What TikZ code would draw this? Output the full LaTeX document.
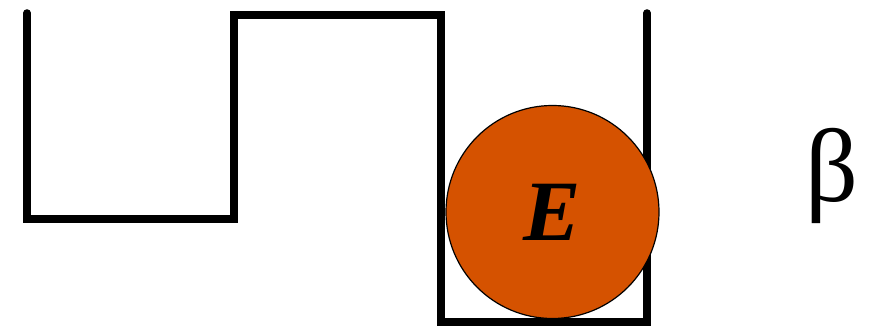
\documentclass[tikz,border=0pt]{standalone}
\usepackage{fontspec}
\setmainfont{Liberation Serif}
\definecolor{ballorange}{RGB}{213,82,0}
\begin{document}
\begin{tikzpicture}[x=1pt,y=-1pt,
  wall/.style={line width=7.5pt,line join=miter,line cap=round},
  ball/.style={circle,draw=black,line width=1.2pt,fill=ballorange,minimum size=213pt,inner sep=0pt}]
\useasboundingbox (0,0) rectangle (881,328);
\draw[wall] (27,13) -- (27,219) -- (234,219) -- (234,15) -- (441,15) -- (441,322) -- (647,322) -- (647,13);
\node[ball] (b) at (552.5,212) {};
\node[font=\fontsize{86}{86}\selectfont\bfseries\itshape] (e) at (b.center) {E};
\node[font=\fontsize{104}{104}\selectfont] (beta) at (832,176) {β};
\end{tikzpicture}
\end{document}
